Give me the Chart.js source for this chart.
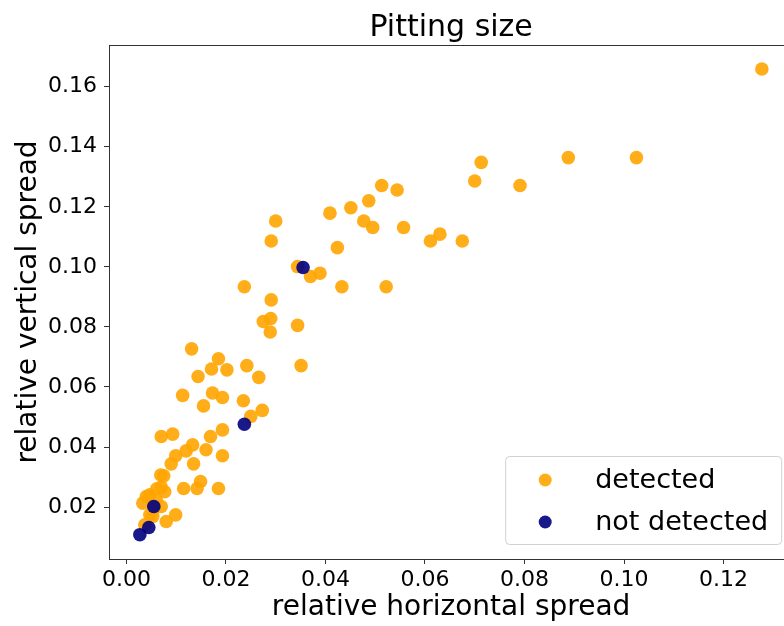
<!DOCTYPE html>
<html>
<head>
<meta charset="utf-8">
<script src="https://cdn.jsdelivr.net/npm/chart.js@4/dist/chart.umd.min.js"></script>
<style>
  html, body { margin: 0; padding: 0; overflow: hidden; background: #fff; }
  #wrap { width: 800px; height: 626px; }
</style>
</head>
<body>
<div id="wrap"><canvas id="chart1" width="800" height="626"></canvas></div>
<script>
// values
const detectedX = [0.1277, 0.1025, 0.0888, 0.0713, 0.0700, 0.0791, 0.0630, 0.0675, 0.0611, 0.0557,
  0.0544, 0.0513, 0.0487, 0.0495, 0.0477, 0.0451, 0.0409, 0.0424, 0.0433, 0.0522,
  0.0389, 0.0370, 0.0344, 0.0300, 0.0291, 0.0237, 0.0291, 0.0290, 0.0275, 0.0289,
  0.0344, 0.0351, 0.0131, 0.0185, 0.0171, 0.0202, 0.0242, 0.0144, 0.0266, 0.0113,
  0.0173, 0.0193, 0.0235, 0.0155, 0.0273, 0.0250, 0.0070, 0.0093, 0.0169, 0.0193,
  0.0133, 0.0120, 0.0160, 0.0099, 0.0090, 0.0135, 0.0193, 0.0069, 0.0075, 0.0070,
  0.0149, 0.0142, 0.0115, 0.0185, 0.0077, 0.0047, 0.0040, 0.0060, 0.0033, 0.0070,
  0.0047, 0.0053, 0.0099, 0.0080, 0.0037, 0.0061, 0.0057];
const detectedY = [0.1659, 0.1364, 0.1364, 0.1348, 0.1286, 0.1271, 0.1109, 0.1086, 0.1086, 0.1131,
  0.1256, 0.1271, 0.1220, 0.1131, 0.1153, 0.1197, 0.1179, 0.1064, 0.0934, 0.0934,
  0.0979, 0.0968, 0.1001, 0.1153, 0.1086, 0.0934, 0.0890, 0.0828, 0.0818, 0.0783,
  0.0805, 0.0671, 0.0727, 0.0694, 0.0660, 0.0657, 0.0671, 0.0635, 0.0632, 0.0572,
  0.0580, 0.0565, 0.0554, 0.0537, 0.0522, 0.0502, 0.0435, 0.0443, 0.0435, 0.0457,
  0.0407, 0.0387, 0.0391, 0.0371, 0.0344, 0.0344, 0.0371, 0.0307, 0.0304, 0.0267,
  0.0285, 0.0262, 0.0262, 0.0262, 0.0251, 0.0241, 0.0235, 0.0224, 0.0213, 0.0202,
  0.0174, 0.0169, 0.0174, 0.0152, 0.0141, 0.0261, 0.0198];
const notDetectedX = [0.0355, 0.0237, 0.0055, 0.0045, 0.0027];
const notDetectedY = [0.0998, 0.0476, 0.0202, 0.0132, 0.0108];
const xTicks = [0.00, 0.02, 0.04, 0.06, 0.08, 0.10, 0.12];
const yTicks = [0.02, 0.04, 0.06, 0.08, 0.10, 0.12, 0.14, 0.16];
const titleText = "Pitting size";

const FONT = "'DejaVu Sans', sans-serif";
const toPoints = (xs, ys) => xs.map((x, i) => ({ x: x, y: ys[i] }));

// title over the plot box, box frame, and legend in the lower right corner
const boxAndLegend = {
  id: "boxAndLegend",
  afterDraw(chart) {
    const ctx = chart.ctx;
    const a = chart.chartArea;
    ctx.save();
    ctx.strokeStyle = "#333";
    ctx.lineWidth = 1;
    ctx.strokeRect(a.left + 0.5, a.top + 0.5, a.right - a.left - 1, a.bottom - a.top);

    ctx.fillStyle = "#000";
    ctx.font = "30px " + FONT;
    ctx.textAlign = "center";
    ctx.textBaseline = "alphabetic";
    ctx.fillText(titleText, (a.left + a.right) / 2, 36);

    const w = 276, h = 88;
    const bx = a.right - 12 - w, by = a.bottom - 15 - h;
    ctx.beginPath();
    ctx.roundRect(bx + 0.5, by + 0.5, w, h, 4);
    ctx.fillStyle = "rgba(255,255,255,0.8)";
    ctx.fill();
    ctx.strokeStyle = "#d0d0d0";
    ctx.stroke();

    ctx.font = "27px " + FONT;
    ctx.textAlign = "left";
    const ds = chart.data.datasets;
    const rows = [ds[1], ds[0]];
    rows.forEach((d, i) => {
      const cy = by + 24 + i * 42;
      ctx.beginPath();
      ctx.arc(bx + 40, cy, 6.5, 0, Math.PI * 2);
      ctx.fillStyle = d.backgroundColor;
      ctx.fill();
      ctx.fillStyle = "#000";
      ctx.fillText(d.label, bx + 90, cy + 8);
    });
    ctx.restore();
  }
};

const chart1 = document.getElementById("chart1");
const stat1 = new Chart(chart1, {
  type: "scatter",
  data: {
    datasets: [{
      label: "not detected",
      data: toPoints(notDetectedX, notDetectedY),
      backgroundColor: "rgba(0,0,128,0.9)",
      borderWidth: 0,
      pointRadius: 6.8,
      order: 0
    }, {
      label: "detected",
      data: toPoints(detectedX, detectedY),
      backgroundColor: "rgba(255,165,0,0.9)",
      borderWidth: 0,
      pointRadius: 6.8,
      order: 1
    }]
  },
  options: {
    responsive: false,
    animation: false,
    layout: { padding: { top: 45, right: 3, bottom: 0, left: 0 } },
    plugins: {
      legend: { display: false },
      tooltip: { enabled: false },
      title: { display: false }
    },
    scales: {
      x: {
        type: "linear",
        min: -0.0035,
        max: 0.134,
        afterFit(s) { s.height = 67; },
        afterBuildTicks(s) { s.ticks = xTicks.map(v => ({ value: v })); },
        grid: { drawOnChartArea: false, drawTicks: true, tickLength: 5, color: "#333" },
        border: { display: true, color: "#333" },
        ticks: {
          color: "#000",
          padding: 3,
          maxRotation: 0,
          font: { family: FONT, size: 22 },
          callback: v => v.toFixed(2)
        },
        title: {
          display: true,
          text: "relative horizontal spread",
          color: "#000",
          font: { family: FONT, size: 28 },
          padding: { top: 0, bottom: 1 }
        }
      },
      y: {
        type: "linear",
        min: 0.0027,
        max: 0.1739,
        afterFit(s) { s.width = 109; },
        afterBuildTicks(s) { s.ticks = yTicks.map(v => ({ value: v })); },
        grid: { drawOnChartArea: false, drawTicks: true, tickLength: 5, color: "#333" },
        border: { display: true, color: "#333" },
        ticks: {
          color: "#000",
          padding: 7,
          font: { family: FONT, size: 22 },
          callback: v => v.toFixed(2)
        },
        title: {
          display: true,
          text: "relative vertical spread",
          color: "#000",
          font: { family: FONT, size: 28 },
          padding: { top: 12, bottom: 0 }
        }
      }
    }
  },
  plugins: [boxAndLegend]
});
</script>
</body>
</html>
